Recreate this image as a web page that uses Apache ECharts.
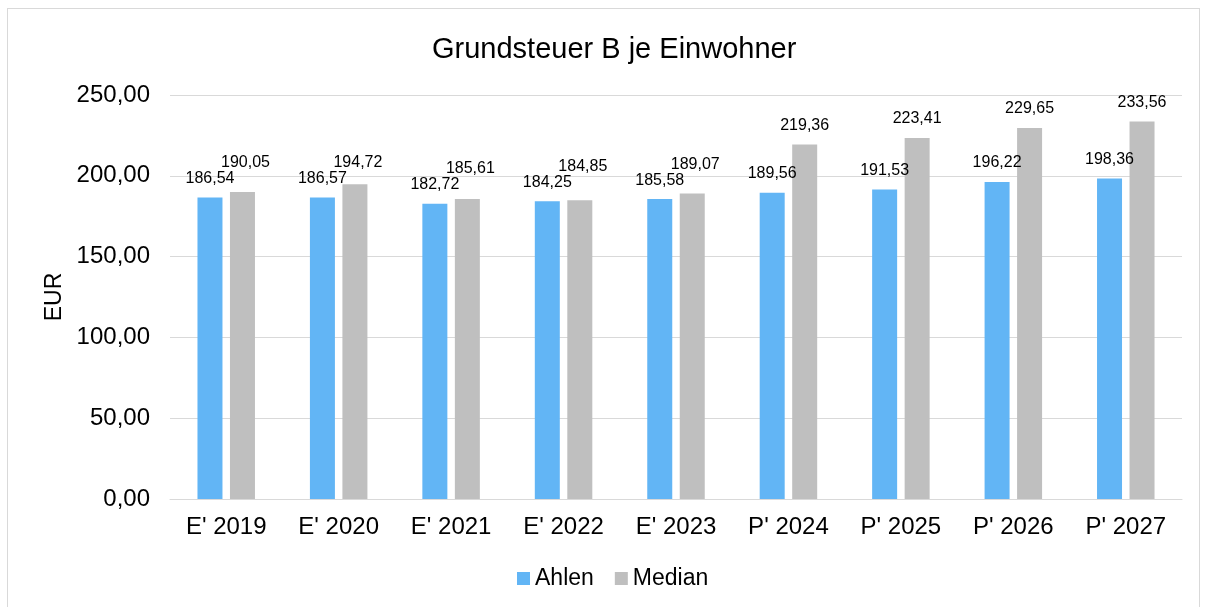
<!DOCTYPE html>
<html>
<head>
<meta charset="utf-8">
<script src="https://cdn.jsdelivr.net/npm/echarts@6/dist/echarts.min.js"></script>
<style>
  html, body { margin: 0; padding: 0; background: #fff; }
  #frame { position: absolute; left: 7px; top: 8px; width: 1193px; height: 620px; border: 1px solid #d9d9d9; box-sizing: border-box; }
  #chart { position: absolute; left: 0; top: 0; width: 1208px; height: 607px; }
</style>
</head>
<body>
<div id="frame"></div>
<div id="chart"></div>
<script>
const categories = ["E' 2019", "E' 2020", "E' 2021", "E' 2022", "E' 2023", "P' 2024", "P' 2025", "P' 2026", "P' 2027"];
const ahlen = [186.54, 186.57, 182.72, 184.25, 185.58, 189.56, 191.53, 196.22, 198.36];
const median = [190.05, 194.72, 185.61, 184.85, 189.07, 219.36, 223.41, 229.65, 233.56];

const fmt = v => v.toFixed(2).replace('.', ',');
const font = 'Liberation Sans, Arial, sans-serif';

const chart = echarts.init(document.getElementById('chart'));
chart.setOption({
  animation: false,
  textStyle: { fontFamily: font },
  title: {
    text: 'Grundsteuer B je Einwohner',
    left: 427,
    top: 30,
    textStyle: { fontSize: 29, fontWeight: 'normal', color: '#000', fontFamily: font }
  },
  legend: {
    bottom: 12,
    left: 512,
    itemWidth: 13,
    itemHeight: 13,
    itemGap: 21,
    icon: 'rect',
    textStyle: { fontSize: 23, color: '#000', fontFamily: font },
    data: ['Ahlen', 'Median']
  },
  grid: { left: 170, right: 26, top: 95, bottom: 108 },
  xAxis: {
    type: 'category',
    data: categories,
    axisTick: { show: false },
    axisLine: { lineStyle: { color: '#d9d9d9', width: 1 } },
    axisLabel: { fontSize: 24, color: '#000', margin: 16, fontFamily: font }
  },
  yAxis: {
    type: 'value',
    min: 0,
    max: 250,
    interval: 50,
    name: 'EUR',
    nameLocation: 'middle',
    nameGap: 100,
    nameRotate: 90,
    nameTextStyle: { fontSize: 23, color: '#000', fontFamily: font },
    axisLine: { show: false },
    axisTick: { show: false },
    splitLine: { lineStyle: { color: '#d9d9d9', width: 1 } },
    axisLabel: { fontSize: 24, color: '#000', margin: 20, fontFamily: font, formatter: fmt }
  },
  series: [
    {
      name: 'Ahlen',
      type: 'bar',
      data: ahlen,
      barWidth: 25,
      barGap: '30%',
      itemStyle: { color: '#62b5f5' },
      label: { show: true, position: 'top', distance: 11, fontSize: 16, color: '#000', fontFamily: font, formatter: p => fmt(p.value) }
    },
    {
      name: 'Median',
      type: 'bar',
      data: median,
      barWidth: 25,
      itemStyle: { color: '#bfbfbf' },
      label: { show: true, position: 'top', distance: 11, fontSize: 16, color: '#000', fontFamily: font, formatter: p => fmt(p.value) },
      // lift the label above the neighbouring Ahlen label when the bars are close
      labelLayout: p => {
        const i = p.dataIndex;
        const blueTop = p.rect.y + p.rect.height * (1 - ahlen[i] / median[i]);
        const dy = Math.min(0, blueTop - p.rect.y - 16);
        return dy < 0 ? { dy: dy, dx: 3 } : {};
      }
    }
  ]
});
</script>
</body>
</html>
